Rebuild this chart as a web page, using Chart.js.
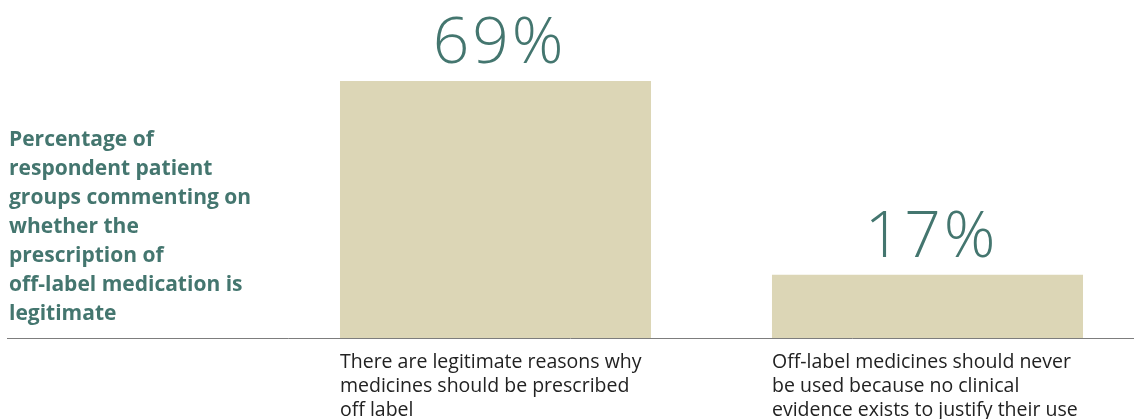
<!doctype html>
<html>
    <head>
        <meta charset="utf-8" />
        <title>Off-label medication</title>
        <script src="https://cdn.jsdelivr.net/npm/chart.js"></script>
        <style>
            body { margin: 0; background: #fff; overflow: hidden; }
        </style>
    </head>
    <body>
        <canvas id="offLabelChart" width="1135" height="419"></canvas>
        <script>
            // data
            const titleLines = [
                "Percentage of",
                "respondent patient",
                "groups commenting on",
                "whether the",
                "prescription of",
                "off-label medication is",
                "legitimate",
            ];
            const categories = [
                ["There are legitimate reasons why", "medicines should be prescribed", "off label"],
                ["Off-label medicines should never", "be used because no clinical", "evidence exists to justify their use"],
            ];
            const positions = [0, 1];
            const values = [69, 17];

            const teal = "#44766f";
            const barHalf = 0.36;

            // big percentage above each bar
            const valueLabels = {
                id: "valueLabels",
                afterDatasetsDraw(chart) {
                    const ctx = chart.ctx;
                    const meta = chart.getDatasetMeta(0);
                    ctx.save();
                    ctx.fillStyle = teal;
                    ctx.font = "300 64px 'Open Sans'";
                    ctx.letterSpacing = "3px";
                    ctx.textAlign = "center";
                    ctx.textBaseline = "alphabetic";
                    meta.data.forEach((bar, i) => {
                        ctx.fillText(values[i] + "%", bar.x + 4, bar.y - 18);
                    });
                    ctx.restore();
                },
            };

            // left-hand caption
            const sideTitle = {
                id: "sideTitle",
                afterDraw(chart) {
                    const ctx = chart.ctx;
                    ctx.save();
                    ctx.fillStyle = teal;
                    ctx.font = "bold 21px 'Open Sans'";
                    ctx.textAlign = "left";
                    ctx.textBaseline = "alphabetic";
                    titleLines.forEach((line, i) => {
                        ctx.fillText(line, 9, 146 + i * 29);
                    });
                    ctx.restore();
                },
            };

            const ctx = document.getElementById("offLabelChart").getContext("2d");
            const chart = new Chart(ctx, {
                type: "bar",
                data: {
                    datasets: [
                        {
                            data: positions.map((x, i) => ({ x: x, y: values[i] })),
                            backgroundColor: "#dcd6b6",
                            borderWidth: 0,
                            barPercentage: 0.72,
                            categoryPercentage: 1,
                        },
                    ],
                },
                options: {
                    responsive: false,
                    animation: false,
                    layout: { padding: { left: 7, right: 2, top: 0, bottom: 0 } },
                    plugins: {
                        legend: { display: false },
                        tooltip: { enabled: false },
                    },
                    scales: {
                        x: {
                            type: "linear",
                            offset: false,
                            min: -1.1308,
                            max: 1.4757,
                            afterBuildTicks(scale) {
                                scale.ticks = positions.map((p) => ({ value: p - barHalf }));
                            },
                            afterFit(scale) {
                                scale.height = 81;
                            },
                            grid: { display: false, drawTicks: false },
                            border: { display: true, color: "#7d7d7d", width: 1 },
                            ticks: {
                                align: "start",
                                padding: 12,
                                color: "#222",
                                font: { family: "'Open Sans'", size: 19.5, lineHeight: 1.24 },
                                autoSkip: false,
                                maxRotation: 0,
                                callback: (v, i) => categories[i],
                            },
                        },
                        y: {
                            display: false,
                            min: 0,
                            max: 90.75,
                        },
                    },
                },
                plugins: [valueLabels, sideTitle],
            });
        </script>
    </body>
</html>
